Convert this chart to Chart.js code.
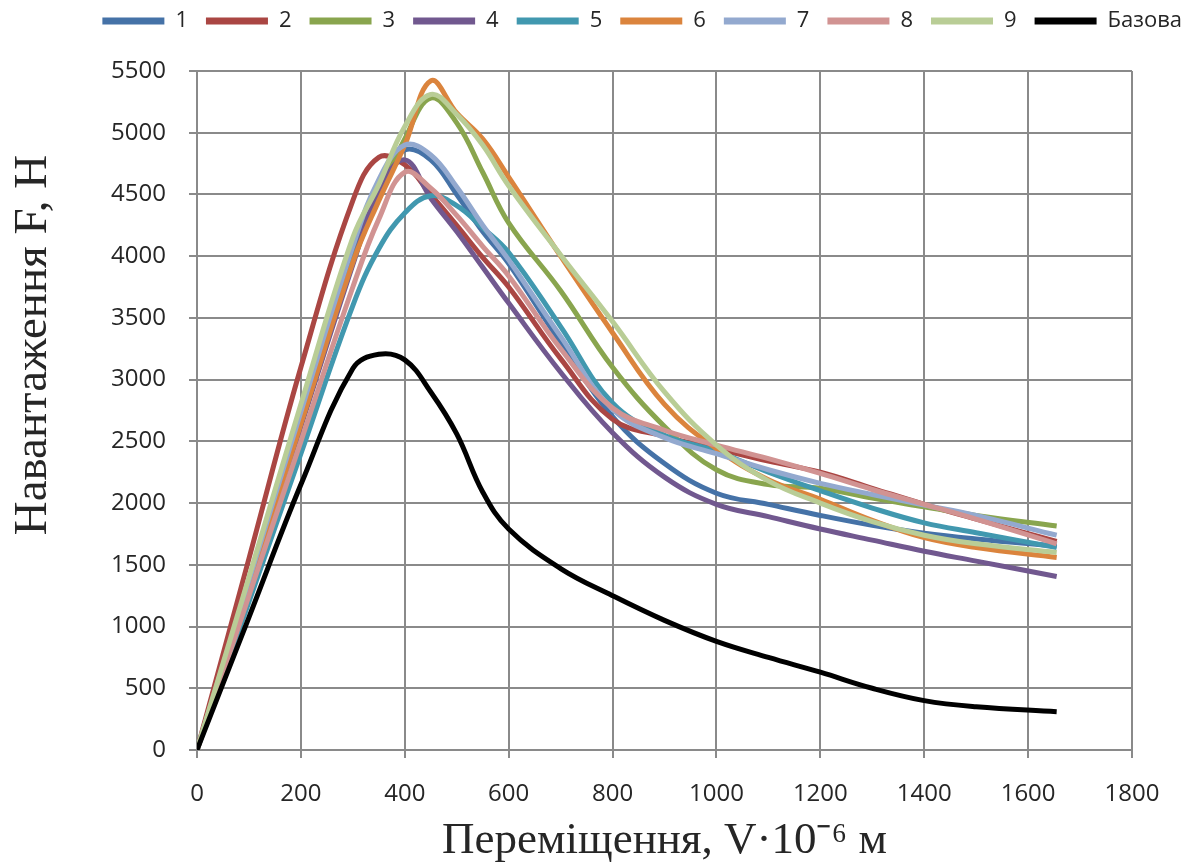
<!DOCTYPE html>
<html>
<head>
<meta charset="utf-8">
<script src="https://cdn.jsdelivr.net/npm/chart.js@4.4.1/dist/chart.umd.min.js"></script>
<style>
  html, body { margin: 0; padding: 0; background: #fff; }
  #wrap { width: 1200px; height: 868px; }
</style>
</head>
<body>
<div id="wrap"><canvas id="chart" width="1200" height="868"></canvas></div>
<script>
  // переміщення, мкм
  const disp = [0, 100, 200, 300, 350, 400, 450, 500, 550, 600, 700, 800, 900, 1000, 1100, 1200, 1300, 1400, 1500, 1655];

  const s1 = [0, 1330, 2660, 4000, 4600, 4860, 4780, 4500, 4200, 3940, 3300, 2700, 2320, 2080, 1990, 1900, 1820, 1756, 1710, 1652];
  const s2 = [0, 1550, 3100, 4450, 4800, 4740, 4500, 4250, 3990, 3750, 3170, 2680, 2540, 2440, 2340, 2250, 2120, 1990, 1870, 1690];
  const s3 = [0, 1320, 2640, 3950, 4500, 4950, 5280, 5080, 4680, 4270, 3720, 3100, 2620, 2270, 2150, 2120, 2040, 1970, 1900, 1815];
  const s4 = [0, 1310, 2620, 3930, 4530, 4780, 4470, 4200, 3910, 3620, 3060, 2570, 2210, 1990, 1890, 1790, 1700, 1610, 1530, 1405];
  const s5 = [0, 1200, 2400, 3600, 4060, 4350, 4490, 4410, 4230, 4030, 3430, 2810, 2550, 2420, 2250, 2100, 1960, 1840, 1760, 1640];
  const s6 = [0, 1320, 2640, 3950, 4450, 4900, 5420, 5160, 4950, 4640, 4000, 3380, 2800, 2440, 2190, 2030, 1860, 1720, 1640, 1560];
  const s7 = [0, 1370, 2740, 4080, 4620, 4900, 4820, 4560, 4250, 3970, 3350, 2760, 2530, 2400, 2270, 2160, 2070, 1985, 1900, 1740];
  const s8 = [0, 1250, 2500, 3750, 4300, 4680, 4550, 4330, 4080, 3840, 3250, 2770, 2590, 2470, 2360, 2240, 2110, 1990, 1870, 1670];
  const s9 = [0, 1400, 2800, 4150, 4580, 5050, 5310, 5150, 4900, 4570, 4010, 3470, 2900, 2470, 2180, 2000, 1850, 1740, 1670, 1600];
  const base = [0, 1075, 2150, 3090, 3205, 3160, 2900, 2560, 2090, 1790, 1470, 1250, 1050, 880, 750, 630, 500, 400, 350, 310];

  const names = ['1', '2', '3', '4', '5', '6', '7', '8', '9', 'Базова'];
  const series = [s1, s2, s3, s4, s5, s6, s7, s8, s9, base];
  const colors = ['#4572A7', '#AA4643', '#89A54E', '#71588F', '#4198AF', '#DB843D', '#93A9CF', '#D19392', '#B9CD96', '#000000'];

  const gridColor = '#8a8a8a';
  const textColor = '#262626';

  const datasets = series.map((vals, i) => ({
    label: names[i],
    data: vals.map((v, k) => ({ x: disp[k], y: v })),
    borderColor: colors[i],
    backgroundColor: colors[i],
    borderWidth: 5,
    pointRadius: 0,
    tension: 0.4,
    fill: false,
    order: 10 - i   // later series on top, like in the original
  }));

  // fixed legend height so the plot starts where the original does
  const legendBox = {
    id: 'legendBox',
    beforeInit(chart) {
      const fit = chart.legend.fit;
      chart.legend.fit = function () {
        fit.call(this);
        this.height = 71;
      };
    },
    afterLayout(chart) {
      const lg = chart.legend;
      lg.left = 0;
      lg.right = 1200;
      lg.width = 1200;
      lg.top = -8;
      lg.bottom = 63;
      lg.adjustHitBoxes();
    }
  };

  // y axis title, drawn by hand so it sits like in the original
  const yTitle = {
    id: 'yTitle',
    afterDraw(chart) {
      const c = chart.ctx;
      c.save();
      c.translate(34, 345);
      c.rotate(-Math.PI / 2);
      c.font = '47px "Liberation Serif"';
      c.fillStyle = textColor;
      c.textAlign = 'center';
      c.textBaseline = 'middle';
      c.fillText('Навантаження F, Н', 0, 0);
      c.restore();
    }
  };

  new Chart(document.getElementById('chart'), {
    type: 'line',
    data: { datasets },
    plugins: [legendBox, yTitle],
    options: {
      responsive: false,
      animation: false,
      layout: { padding: { left: 0, right: 68, top: 0, bottom: 0 } },
      plugins: {
        legend: {
          position: 'top',
          align: 'end',
          labels: {
            boxWidth: 62,
            boxHeight: 7,
            padding: 18,
            color: textColor,
            font: { family: 'Open Sans', size: 22 },
            sort: (a, b) => a.datasetIndex - b.datasetIndex,
            generateLabels(chart) {
              const items = Chart.defaults.plugins.legend.labels.generateLabels(chart);
              items.forEach(it => { it.fillStyle = it.strokeStyle; it.lineWidth = 0; });
              return items;
            }
          }
        },
        tooltip: { enabled: false }
      },
      scales: {
        x: {
          type: 'linear',
          min: 0,
          max: 1800,
          ticks: { stepSize: 200, color: textColor, padding: 22, font: { family: 'Open Sans', size: 24 }, callback: v => String(v) },
          grid: { color: gridColor, lineWidth: 2, tickLength: 8, tickColor: gridColor },
          border: { color: gridColor, width: 2 },
          title: {
            display: true,
            text: 'Переміщення, V·10⁻⁶ м',
            color: textColor,
            font: { family: 'Liberation Serif', size: 45 },
            padding: { top: 0, bottom: 0 }
          },
          afterFit(scale) { scale.height = 118; }
        },
        y: {
          min: 0,
          max: 5500,
          ticks: { stepSize: 500, color: textColor, padding: 23, font: { family: 'Open Sans', size: 24 }, callback: v => String(v) },
          grid: { color: gridColor, lineWidth: 2, tickLength: 8, tickColor: gridColor },
          border: { color: gridColor, width: 2 },
          afterFit(scale) { scale.width = 197; }
        }
      }
    }
  });
</script>
</body>
</html>
